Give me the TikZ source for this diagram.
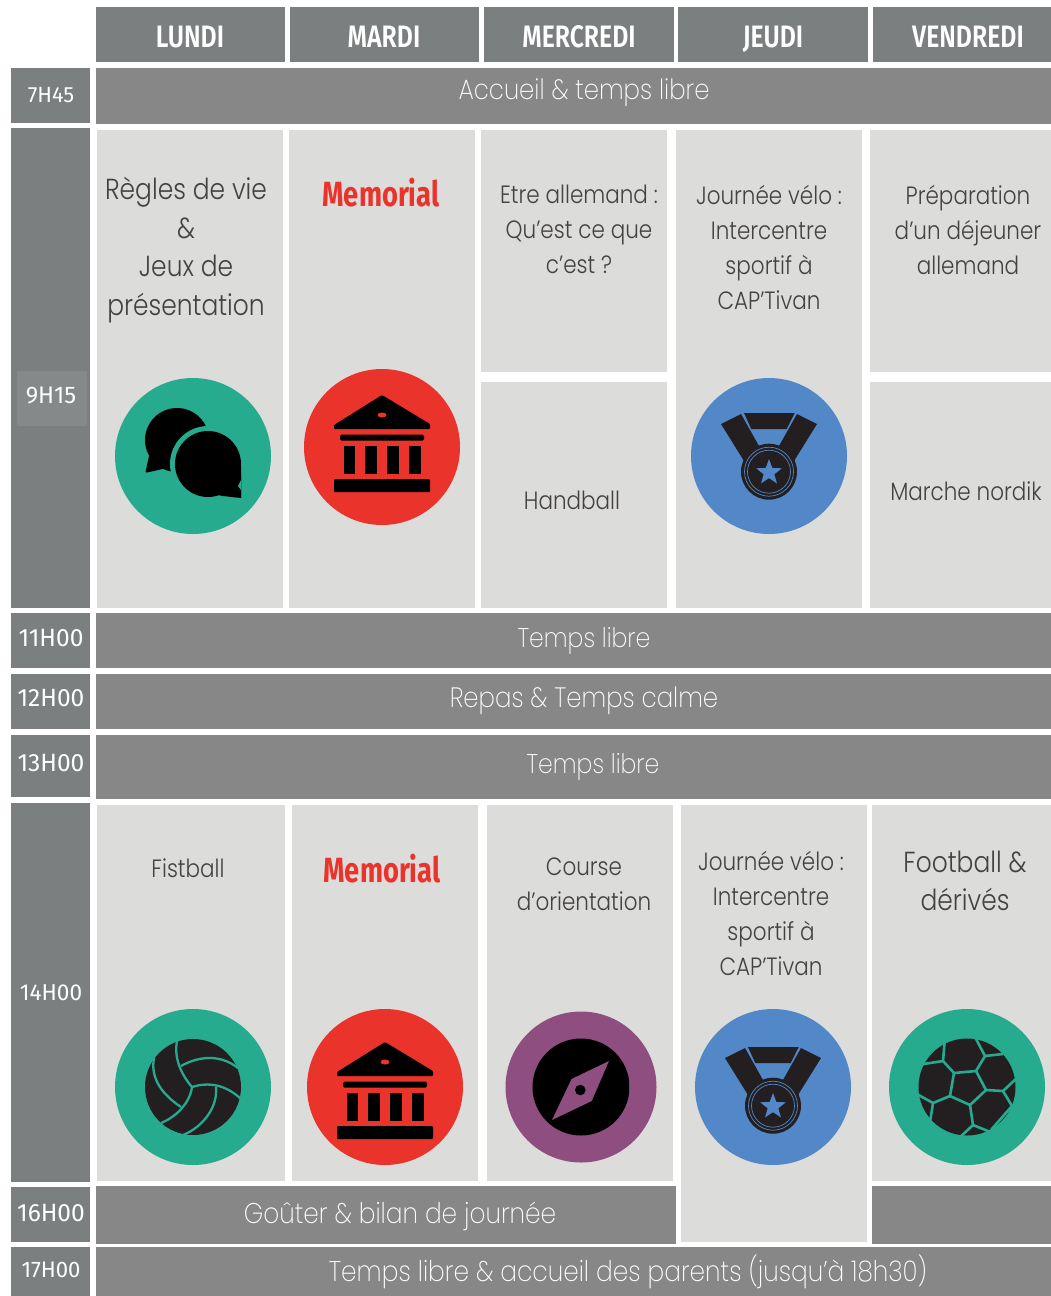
\documentclass[tikz,border=0pt]{standalone}
\usepackage{fontspec}
\usetikzlibrary{shapes.geometric}
\newfontfamily\thinf[UprightFont=* Light,FakeStretch=0.86]{Poppins}
\newfontfamily\xthinf[UprightFont=* ExtraLight,FakeStretch=0.87]{Poppins}
\newfontfamily\headf[UprightFont=* SemiBold,FakeStretch=0.80]{Fira Sans}
\newfontfamily\memf[FakeStretch=0.78]{Fira Sans}
\newfontfamily\hourf[FakeStretch=0.98]{Fira Sans}
\definecolor{hdr}{HTML}{7B7F7F}
\definecolor{bar}{HTML}{878787}
\definecolor{cellc}{HTML}{DCDCDA}
\definecolor{teal}{HTML}{26AB8F}
\definecolor{redc}{HTML}{E9332B}
\definecolor{bluec}{HTML}{5287C8}
\definecolor{purp}{HTML}{8F4E80}
\definecolor{ink}{HTML}{231F20}
\tikzset{
  hdrtext/.style={text=white,text height=22pt,text depth=0pt,font=\headf\fontsize{31}{31}\selectfont},
  hourtext/.style={text=white,font=\hourf\fontsize{#1}{#1}\selectfont},
  hourtext/.default=25,
  bartext/.style={text=white,font=\xthinf\fontsize{#1}{#1}\selectfont},
  bartext/.default=28,
  celltext/.style={text=ink!85,align=center,font=\thinf\fontsize{25}{35}\selectfont},
  bigcell/.style={text=ink!85,align=center,font=\thinf\fontsize{29}{38.5}\selectfont},
  memtext/.style={text=redc,font=\memf\bfseries\fontsize{35}{35}\selectfont},
  disc/.style={circle,fill=#1,draw=none,inner sep=0pt,minimum size=156pt},
}
% icons, drawn around the current origin
\newcommand{\chaticon}{%
  \begin{scope}
    \clip (-60,-60) rectangle (48,60);
    \fill[black] (-16,-16) circle (32);
    \fill[black] (-44,0) -- (-47.5,16) -- (-46,16.5) -- (-26,12) -- (-10,14) -- (-20,-5) -- cycle;
    \fill[teal] (15,8) circle (38);
    \fill[black] (15,8) circle (33);
    \fill[black] (30,34) -- (47,41) -- (48,41) -- (48,10) -- cycle;
    \fill[black] (20,38) -- (30,40) -- (48,42) -- (48,20) -- cycle;
    \fill[teal] (48,24) -- (45,30) -- (48,34) -- (49,30) -- cycle;
  \end{scope}}
\newcommand{\bankicon}{%
  \fill[black,rounded corners=1pt] (0,-52) -- (-48,-22) -- (-48,-18) -- (48,-18) -- (48,-23) -- cycle;
  \fill[redc] (0,-32) ellipse (4.5 and 2.5);
  \fill[black,rounded corners=1.5pt] (-42,-12.5) rectangle (42,-6.5);
  \foreach \a/\b in {-38.5/-27,-17/-5,5/16.5,27/38.5}{\fill[black] (\a,-1) rectangle (\b,27);}
  \fill[black,rounded corners=1pt] (-48,32) rectangle (48,45);}
\newcommand{\medalicon}{%
  \fill[ink] (-48,-32) -- (-28,-42) -- (-10,-10) -- (-25,5) -- cycle;
  \fill[ink] (48,-32) -- (28,-42) -- (10,-10) -- (25,5) -- cycle;
  \fill[ink] (-25,-43) -- (25.7,-43) -- (17.7,-27) -- (-17.7,-27) -- cycle;
  \fill[ink] (0,15.7) circle (28);
  \draw[bluec,line width=.7pt] (0,15.7) circle (24.5);
  \draw[bluec,line width=.7pt] (0,15.7) circle (21.5);
  \node[star,star points=5,star point ratio=2.4,fill=bluec,inner sep=0pt,minimum size=27pt,draw=none] (medalstar\medalid) at (0,16.5) {};}
\newcommand{\volleyicon}{%
  \begin{scope}
    \clip (-60,-60) rectangle (48,60);
    \fill[ink] (0,0) circle (48);
    \begin{scope}[draw=teal,line width=2.3pt]
      \draw (-39,-29) .. controls (-43,-8) and (-30,8) .. (-12,20);
      \draw (-16,-46) .. controls (-19,-30) and (-13,-14) .. (-1,0);
      \draw (-12,-21) .. controls (4,-30) and (26,-34) .. (45,-19);
      \draw (-1,0) .. controls (15,-5) and (32,-3) .. (48,12);
      \draw (-1,0) .. controls (-3,16) and (-17,30) .. (-32,36);
      \draw (23,0) .. controls (25,20) and (10,40) .. (-10,48);
    \end{scope}
  \end{scope}}
\newcommand{\compassicon}{%
  \begin{scope}
    \clip (-60,-60) rectangle (48,60);
    \fill[black] (0,0) circle (48.5);
  \end{scope}
  \fill[purp] (28,-26) -- (-9.5,-8) -- (-29,33) -- (10.7,14) -- cycle;
  \fill[black] (-0.7,3) circle (5.3);}
\newcommand{\footicon}{%
  \begin{scope}
    \clip (-60,-60) rectangle (49,60);
    \fill[ink] (0,0) circle (48.5);
    \begin{scope}[draw=teal,line width=2.6pt,line join=round]
      \draw (-13,-14) -- (9,-16) -- (19,3) -- (3,18) -- (-17,9) -- cycle;
      \draw (-13,-14) -- (-24,-26) -- (-22,-50);
      \draw (-24,-26) -- (-50,-22);
      \draw (9,-16) -- (18,-31) -- (8,-50);
      \draw (18,-31) -- (36,-33);
      \draw (19,3) -- (36,4) -- (52,-11);
      \draw (36,4) -- (45,19);
      \draw (45,19) -- (24,43);
      \draw (3,18) -- (6,38) -- (-9,52);
      \draw (6,38) -- (26,46);
      \draw (-17,9) -- (-34,16) -- (-52,6);
      \draw (-34,16) -- (-37,35);
    \end{scope}
  \end{scope}}
\begin{document}
\begin{tikzpicture}[x=1pt,y=-1pt]
\useasboundingbox (0,0) rectangle (1051,1296);
\fill[white] (0,0) rectangle (1051,1296);
% day headers
\foreach \a/\b/\n in {96/285/a,290/479/b,484/674/c,678/868/d,873/1051/e}{\fill[hdr] (\a,7) rectangle (\b,62);}
\node[hdrtext] (lundi) at (190,36) {LUNDI};
\node[hdrtext] (mardi) at (384,36) {MARDI};
\node[hdrtext] (mercredi) at (579,36) {MERCREDI};
\node[hdrtext] (jeudi) at (773,36) {JEUDI};
\node[hdrtext] (vendredi) at (968,36) {VENDREDI};
% hour column
\fill[hdr] (11,68) rectangle (90,123);
\fill[hdr] (11,128) rectangle (90,608);
\fill[white,opacity=.08] (17,371) rectangle (87,426);
\fill[hdr] (11,613) rectangle (90,668);
\fill[hdr] (11,674) rectangle (90,729);
\fill[hdr] (11,735) rectangle (90,797);
\fill[hdr] (11,803) rectangle (90,1182);
\fill[hdr] (11,1187) rectangle (90,1242);
\fill[hdr] (11,1247) rectangle (90,1296);
\node[hourtext=22] (h1) at (51,95) {7H45};
\node[hourtext=24] (h2) at (51,395) {9H15};
\node[hourtext] (h3) at (51,638) {11H00};
\node[hourtext] (h4) at (51,698) {12H00};
\node[hourtext] (h5) at (51,763) {13H00};
\node[hourtext=23] (h6) at (51,993) {14H00};
\node[hourtext] (h7) at (51,1213) {16H00};
\node[hourtext=22.5] (h8) at (51,1270) {17H00};
% bars
\fill[bar] (96,68) rectangle (1051,124);
\fill[bar] (96,613) rectangle (1051,668);
\fill[bar] (96,674) rectangle (1051,729);
\fill[bar] (96,735) rectangle (1051,799);
\fill[bar] (96,1186) rectangle (676,1244);
\fill[bar] (872,1186) rectangle (1051,1244);
\fill[bar] (96,1247) rectangle (1051,1296);
\node[bartext] (b1) at (584,93) {Accueil \& temps libre};
\node[bartext=27] (b2) at (584,641) {Temps libre};
\node[bartext] (b3) at (584,701) {Repas \& Temps calme};
\node[bartext=27] (b4) at (593,767) {Temps libre};
\node[bartext=28.5] (b5) at (400,1216) {Goûter \& bilan de journée};
\node[bartext=28.5] (b6) at (628,1272) {Temps libre \& accueil des parents (jusqu’à 18h30)};
% morning cells
\fill[cellc] (97,130) rectangle (283,608);
\fill[cellc] (289,130) rectangle (475,608);
\fill[cellc] (481,130) rectangle (667,372);
\fill[cellc] (481,382) rectangle (667,608);
\fill[cellc] (676,130) rectangle (862,608);
\fill[cellc] (870,130) rectangle (1051,372);
\fill[cellc] (870,382) rectangle (1051,608);
% afternoon cells
\fill[cellc] (97,805) rectangle (285,1181);
\fill[cellc] (292,805) rectangle (478,1181);
\fill[cellc] (487,805) rectangle (673,1181);
\fill[cellc] (681,805) rectangle (867,1242);
\fill[cellc] (872,805) rectangle (1051,1181);
% cell texts
\node[bigcell] (t1) at (186,250) {Règles de vie\\\&\\Jeux de\\présentation};
\node[memtext] (t2) at (381,193) {Memorial};
\node[celltext] (t3) at (579,229) {Etre allemand :\\Qu’est ce que\\c’est ?};
\node[celltext] (t4) at (572,500) {Handball};
\node[celltext] (t5) at (769,247) {Journée vélo :\\Intercentre\\sportif à\\CAP’Tivan};
\node[celltext] (t6) at (968,230) {Préparation\\d’un déjeuner\\allemand};
\node[celltext] (t7) at (966,491) {Marche nordik};
\node[celltext] (t8) at (188,868) {Fistball};
\node[memtext] (t9) at (382,869) {Memorial};
\node[celltext] (t10) at (584,884) {Course\\d’orientation};
\node[celltext] (t11) at (771,913) {Journée vélo :\\Intercentre\\sportif à\\CAP’Tivan};
\node[bigcell] (t12) at (965,881) {Football \&\\dérivés};
% icon discs
\node[disc=teal] (d1) at (193,456) {};
\node[disc=redc] (d2) at (382,447) {};
\node[disc=bluec] (d3) at (769,456) {};
\node[disc=teal] (d4) at (193,1087) {};
\node[disc=redc] (d5) at (385,1087) {};
\node[disc=purp,minimum size=151pt] (d6) at (581,1087) {};
\node[disc=bluec] (d7) at (773,1087) {};
\node[disc=teal] (d8) at (967,1087) {};
\begin{scope}[shift={(d1.center)}]\chaticon\end{scope}
\begin{scope}[shift={(d2.center)}]\bankicon\end{scope}
\def\medalid{a}\begin{scope}[shift={(d3.center)}]\medalicon\end{scope}
\begin{scope}[shift={(d4.center)}]\volleyicon\end{scope}
\begin{scope}[shift={(d5.center)},yshift=-7pt]\bankicon\end{scope}
\begin{scope}[shift={(d6.center)}]\compassicon\end{scope}
\def\medalid{b}\begin{scope}[shift={(d7.center)},yshift=-3pt]\medalicon\end{scope}
\begin{scope}[shift={(d8.center)}]\footicon\end{scope}
\end{tikzpicture}
\end{document}
